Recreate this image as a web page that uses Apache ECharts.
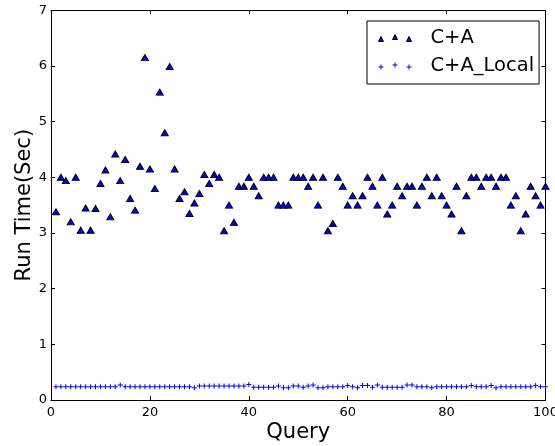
<!DOCTYPE html>
<html><head><meta charset="utf-8">
<script src="https://cdn.jsdelivr.net/npm/echarts@6/dist/echarts.min.js"></script>
<style>html,body{margin:0;padding:0;background:#fff}#c{width:555px;height:446px}</style>
</head><body><div id="c"></div>
<script>
const queries = [1,2,3,4,5,6,7,8,9,10,11,12,13,14,15,16,17,18,19,20,21,22,23,24,25,26,27,28,29,30,
31,32,33,34,35,36,37,38,39,40,41,42,43,44,45,46,47,48,49,50,51,52,53,54,55,56,57,58,59,60,
61,62,63,64,65,66,67,68,69,70,71,72,73,74,75,76,77,78,79,80,81,82,83,84,85,86,87,88,89,90,
91,92,93,94,95,96,97,98,99,100];
const caTimes = [3.38,4.0,3.94,3.2,4.0,3.05,3.45,3.05,3.44,3.89,
4.13,3.29,4.42,3.94,4.32,3.62,3.41,4.2,6.15,4.15,
3.8,5.53,4.8,5.99,4.15,3.62,3.74,3.35,3.54,3.71,
4.05,3.89,4.05,4.0,3.04,3.5,3.19,3.84,3.84,4.0,
3.84,3.67,4.0,4.0,4.0,3.5,3.5,3.5,4.0,4.0,
4.0,3.84,4.0,3.5,4.0,3.04,3.17,4.0,3.84,3.5,
3.67,3.5,3.67,4.0,3.84,3.5,4.0,3.34,3.5,3.84,
3.67,3.84,3.84,3.5,3.84,4.0,3.67,4.0,3.67,3.5,
3.34,3.84,3.04,3.67,4.0,4.0,3.84,4.0,4.0,3.84,
4.0,4.0,3.5,3.67,3.04,3.34,3.84,3.67,3.5,3.84];
const caLocalTimes = [0.24,0.24,0.24,0.24,0.24,0.24,0.24,0.24,0.24,0.24,
0.24,0.24,0.24,0.27,0.24,0.24,0.24,0.24,0.24,0.24,
0.24,0.24,0.24,0.24,0.24,0.24,0.24,0.24,0.22,0.25,
0.25,0.25,0.25,0.25,0.25,0.25,0.25,0.25,0.25,0.28,
0.23,0.23,0.23,0.23,0.23,0.25,0.22,0.22,0.25,0.25,
0.23,0.25,0.27,0.22,0.22,0.24,0.24,0.24,0.24,0.26,
0.24,0.22,0.26,0.26,0.23,0.27,0.23,0.23,0.23,0.23,
0.23,0.27,0.27,0.24,0.24,0.24,0.22,0.24,0.24,0.24,
0.24,0.24,0.24,0.24,0.26,0.24,0.24,0.24,0.26,0.22,
0.24,0.24,0.24,0.24,0.24,0.24,0.24,0.26,0.24,0.24];
const seriesNames = ['C+A','C+A_Local'];

const FF = 'DejaVu Sans';
const plusSym = 'path://M-0.2,-1H0.2V-0.2H1V0.2H0.2V1H-0.2V0.2H-1V-0.2H-0.2Z';
const triIcon = 'path://M0,7L2.5,2L5,7ZM14,5L16.5,0L19,5ZM28,7L30.5,2L33,7Z';
const plusIcon = 'path://M2,2H3V4H5V5H3V7H2V5H0V4H2ZM16,0H17V2H19V3H17V5H16V3H14V2H16ZM30,2H31V4H33V5H31V7H30V5H28V4H30Z';

function axisBase(pos, showLabel){
  return {
    type:'value', position:pos,
    axisLine:{show:true,onZero:false,lineStyle:{color:'#000',width:1}},
    axisTick:{show:true,inside:true,length:4,lineStyle:{color:'#000',width:1}},
    axisLabel:{show:showLabel,color:'#000',fontSize:13,fontFamily:FF},
    splitLine:{show:false},
    nameMoveOverlap:false
  };
}
const xb = Object.assign(axisBase('bottom',true),{min:0,max:100,interval:20,name:'Query',nameLocation:'middle',nameGap:22,
  nameTextStyle:{fontSize:21,color:'#000',fontFamily:FF}});
xb.axisLabel.margin = 6;
const xt = Object.assign(axisBase('top',false),{min:0,max:100,interval:20});
const yl = Object.assign(axisBase('left',true),{min:0,max:7,interval:1,name:'Run Time(Sec)',nameLocation:'middle',nameGap:16,nameRotate:90,
  nameTextStyle:{fontSize:21,color:'#000',fontFamily:FF}});
yl.axisLabel.margin = 4;
const yr = Object.assign(axisBase('right',false),{min:0,max:7,interval:1});

const chart = echarts.init(document.getElementById('c'));
chart.setOption({
  animation:false,
  backgroundColor:'#fff',
  grid:{left:51,right:9.5,top:10.3,bottom:46,containLabel:false,outerBoundsMode:'none'},
  xAxis:[xb,xt],
  yAxis:[yl,yr],
  legend:{
    orient:'vertical',left:367,top:21,padding:[7,5,8,11],itemGap:8,itemWidth:33,itemHeight:7,
    backgroundColor:'#fff',borderColor:'#000',borderWidth:1,borderRadius:0,
    textStyle:{fontSize:19.5,fontFamily:FF,color:'#000',lineHeight:20,padding:[0,0,0,14]},
    data:[
      {name:seriesNames[0],icon:triIcon,itemStyle:{color:'#0000ff',borderColor:'#000',borderWidth:1}},
      {name:seriesNames[1],icon:plusIcon,itemStyle:{color:'#0000ff',borderWidth:0}}
    ]
  },
  series:[
    {type:'scatter',name:seriesNames[0],xAxisIndex:0,yAxisIndex:0,
     data:queries.map((q,i)=>[q,caTimes[i]]),
     symbol:'triangle',symbolSize:[7,6],
     itemStyle:{color:'#0000ff',borderColor:'#000',borderWidth:1,opacity:1},
     emphasis:{disabled:true}},
    {type:'scatter',name:seriesNames[1],xAxisIndex:0,yAxisIndex:0,
     data:queries.map((q,i)=>[q,caLocalTimes[i]]),
     symbol:plusSym,symbolSize:5,
     itemStyle:{color:'#0000ff',opacity:1},
     emphasis:{disabled:true}}
  ]
});
</script></body></html>
